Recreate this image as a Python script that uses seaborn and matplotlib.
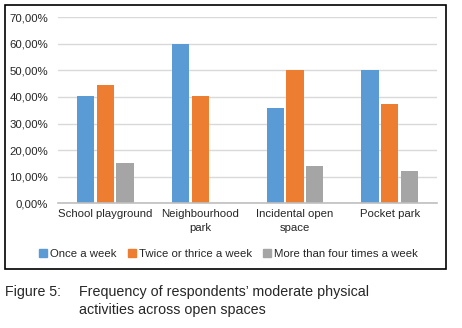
import matplotlib
matplotlib.use("Agg")
import matplotlib.pyplot as plt
from matplotlib.patches import Rectangle
from matplotlib.ticker import FuncFormatter
import pandas as pd
import seaborn as sns

spaces = ["School playground", "Neighbourhood\npark", "Incidental open\nspace", "Pocket park"]
frequencies = ["Once a week", "Twice or thrice a week", "More than four times a week"]
once_a_week = [40.3, 59.7, 35.8, 50.0]
twice_thrice = [44.3, 40.4, 50.0, 37.4]
more_than_four = [15.3, 0.0, 14.2, 12.3]
colors = ["#5B9BD5", "#ED7D31", "#A5A5A5"]

rows = []
for freq, vals in zip(frequencies, [once_a_week, twice_thrice, more_than_four]):
    for space, v in zip(spaces, vals):
        rows.append({"space": space, "frequency": freq, "value": v})
df = pd.DataFrame(rows)

sns.set_theme(style="white")
plt.rcParams["font.family"] = ["Liberation Sans", "DejaVu Sans"]

fig = plt.figure(figsize=(4.62, 3.28), dpi=100)
ax = fig.add_axes([0.1255, 0.380, 0.8205, 0.568])

sns.barplot(data=df, x="space", y="value", hue="frequency", palette=colors,
            saturation=1, width=0.62, gap=0.12, ax=ax, legend=False, edgecolor="none")

ax.set_ylim(0, 70)
ax.set_yticks(range(0, 71, 10))
ax.yaxis.set_major_formatter(FuncFormatter(lambda v, p: f"{v:.2f}%".replace(".", ",")))
ax.grid(axis="y", color="#D9D9D9", linewidth=1)
ax.set_axisbelow(True)
for s in ["top", "right", "left"]:
    ax.spines[s].set_visible(False)
ax.spines["bottom"].set_color("#BFBFBF")
ax.spines["bottom"].set_linewidth(1.2)
ax.tick_params(axis="both", length=0, labelsize=8.2, labelcolor="#262626", pad=4)
ax.tick_params(axis="y", pad=7)
ax.set_xlabel("")
ax.set_ylabel("")
ax.set_xlim(-0.5, 3.5)
for lab in ax.get_xticklabels():
    lab.set_linespacing(1.5)

handles = [Rectangle((0, 0), 1, 1, color=c) for c in colors]
fig.legend(handles, frequencies, loc="center", bbox_to_anchor=(0.495, 0.227), ncol=3,
           frameon=False, fontsize=8.2, handlelength=0.7, handleheight=0.7,
           handletextpad=0.25, columnspacing=1.0, labelcolor="#262626")

fig.patches.append(Rectangle((5 / 462, 1 - 269 / 328), 441 / 462, 264 / 328,
                             transform=fig.transFigure, fill=False,
                             edgecolor="black", linewidth=1.2))

fig.text(5 / 462, 1 - 292 / 328, "Figure 5:", fontsize=10.2, va="center", ha="left")
fig.text(79 / 462, 1 - 292 / 328, "Frequency of respondents\u2019 moderate physical",
         fontsize=10.3, va="center", ha="left")
fig.text(79 / 462, 1 - 310 / 328, "activities across open spaces",
         fontsize=10.3, va="center", ha="left")

fig.savefig("out.png", dpi=100)
